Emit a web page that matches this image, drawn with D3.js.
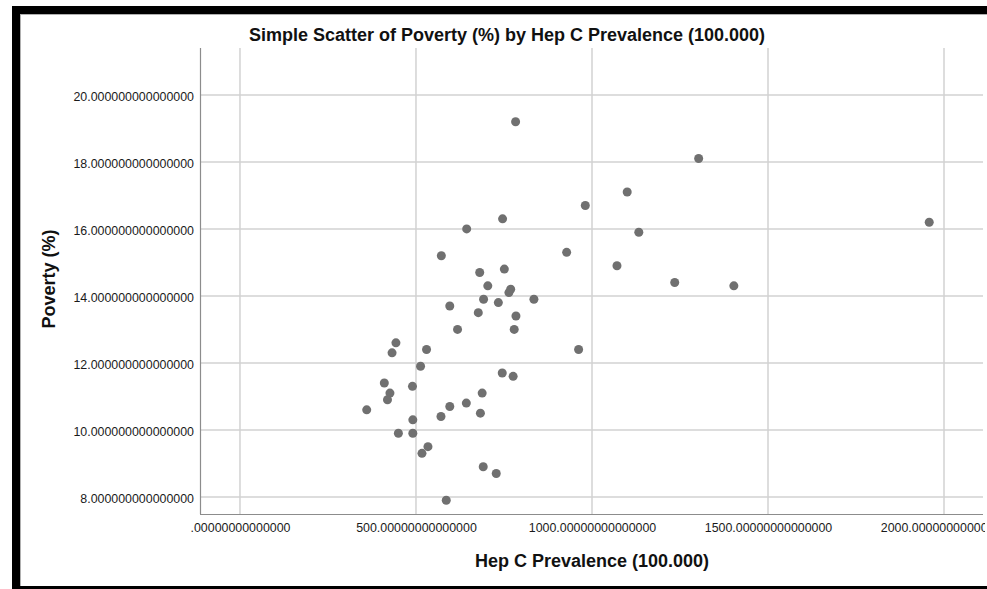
<!DOCTYPE html>
<html>
<head>
<meta charset="utf-8">
<script src="https://cdn.jsdelivr.net/npm/d3@7"></script>
<style>
  html, body { margin: 0; padding: 0; background: #fff; }
  svg { display: block; font-family: "Liberation Sans", Arial, sans-serif; }
</style>
</head>
<body>
<svg id="chart" width="987" height="589"></svg>
<script>
// Hep C prevalence (per 100,000) and poverty rate (%) per state
const hepC = [783, 1100, 981, 1133, 746, 644, 928, 572, 1071, 681,
              751, 704, 769, 764, 835, 692, 734, 596, 677, 784,
              618, 779, 443, 530, 962, 432, 513, 745, 776, 410,
              490, 426, 419, 360, 688, 643, 596, 571, 683, 491,
              450, 491, 534, 517, 691, 728, 586, 1303, 1958, 1235, 1403];
const poverty = [19.2, 17.1, 16.7, 15.9, 16.3, 16.0, 15.3, 15.2, 14.9, 14.7,
                 14.8, 14.3, 14.2, 14.1, 13.9, 13.9, 13.8, 13.7, 13.5, 13.4,
                 13.0, 13.0, 12.6, 12.4, 12.4, 12.3, 11.9, 11.7, 11.6, 11.4,
                 11.3, 11.1, 10.9, 10.6, 11.1, 10.8, 10.7, 10.4, 10.5, 10.3,
                 9.9, 9.9, 9.5, 9.3, 8.9, 8.7, 7.9, 18.1, 16.2, 14.4, 14.3];

const xTicks = [0, 500, 1000, 1500, 2000];
const yTicks = [8, 10, 12, 14, 16, 18, 20];

const chartTitle = "Simple Scatter of Poverty (%) by Hep C Prevalence (100.000)";
const xTitle = "Hep C Prevalence (100.000)";
const yTitle = "Poverty (%)";

const svg = d3.select("#chart");

// plot box
const plot = { left: 200, right: 983, top: 48, bottom: 514 };

const x = d3.scaleLinear().domain([-113.6, 2110.8]).range([plot.left, plot.right]);
const y = d3.scaleLinear().domain([7.49, 21.4]).range([plot.bottom, plot.top]);

// outer frame
svg.append("rect").attr("x", 12).attr("y", 6).attr("width", 975).attr("height", 8).attr("fill", "#000");
svg.append("rect").attr("x", 12).attr("y", 6).attr("width", 8).attr("height", 583).attr("fill", "#000");
svg.append("rect").attr("x", 12).attr("y", 586).attr("width", 975).attr("height", 3).attr("fill", "#000");
svg.append("line").attr("x1", 20.5).attr("x2", 20.5).attr("y1", 14).attr("y2", 586)
  .attr("stroke", "#b0b0b0").attr("stroke-width", 1);
svg.append("line").attr("x1", 20).attr("x2", 987).attr("y1", 14.5).attr("y2", 14.5)
  .attr("stroke", "#b0b0b0").attr("stroke-width", 1);

const clip = svg.append("defs").append("clipPath").attr("id", "frameClip");
clip.append("rect").attr("x", 20).attr("y", 14).attr("width", 965).attr("height", 572);

const g = svg.append("g").attr("clip-path", "url(#frameClip)");

// gridlines
g.append("g").selectAll("line").data(yTicks).join("line")
  .attr("x1", plot.left).attr("x2", plot.right)
  .attr("y1", d => y(d)).attr("y2", d => y(d))
  .attr("stroke", "#d2d2d2").attr("stroke-width", 1.5);
g.append("g").selectAll("line").data(xTicks).join("line")
  .attr("x1", d => x(d)).attr("x2", d => x(d))
  .attr("y1", plot.top).attr("y2", plot.bottom)
  .attr("stroke", "#d2d2d2").attr("stroke-width", 1.5);

// axis lines
g.append("line").attr("x1", plot.left + 0.5).attr("x2", plot.left + 0.5)
  .attr("y1", plot.top).attr("y2", plot.bottom).attr("stroke", "#8c8c8c").attr("stroke-width", 1.2);
g.append("line").attr("x1", plot.left).attr("x2", plot.right)
  .attr("y1", plot.bottom + 0.5).attr("y2", plot.bottom + 0.5).attr("stroke", "#8c8c8c").attr("stroke-width", 1.2);

// axes (labels only)
const yAxis = d3.axisLeft(y).tickValues(yTicks).tickSize(0).tickPadding(6)
  .tickFormat(d => d.toFixed(15));
const xAxis = d3.axisBottom(x).tickValues(xTicks).tickSize(0).tickPadding(9)
  .tickFormat(d => d === 0 ? "." + "0".repeat(14) : d.toFixed(14));

const gy = g.append("g").attr("transform", `translate(${plot.left},0)`).call(yAxis);
gy.select(".domain").remove();
gy.selectAll("text").attr("font-size", 12.4).attr("fill", "#1a1a1a")
  .attr("font-family", "'Liberation Sans', Arial, sans-serif").attr("dy", "0.45em");

const gx = g.append("g").attr("transform", `translate(0,${plot.bottom})`).call(xAxis);
gx.select(".domain").remove();
gx.selectAll("text").attr("font-size", 12.4).attr("fill", "#1a1a1a")
  .attr("font-family", "'Liberation Sans', Arial, sans-serif");

// points
g.append("g").selectAll("circle").data(hepC.map((h, i) => [h, poverty[i]])).join("circle")
  .attr("cx", d => x(d[0])).attr("cy", d => y(d[1])).attr("r", 4.5)
  .attr("fill", "#707070");

// titles
svg.append("text").attr("x", 507).attr("y", 41).attr("text-anchor", "middle")
  .attr("font-size", 18).attr("font-weight", "bold").attr("fill", "#111").text(chartTitle);
svg.append("text").attr("x", 592).attr("y", 566.5).attr("text-anchor", "middle")
  .attr("font-size", 18).attr("font-weight", "bold").attr("fill", "#111").text(xTitle);
svg.append("text").attr("transform", "translate(54.5,279) rotate(-90)").attr("text-anchor", "middle")
  .attr("font-size", 18).attr("font-weight", "bold").attr("fill", "#111").text(yTitle);
</script>
</body>
</html>
